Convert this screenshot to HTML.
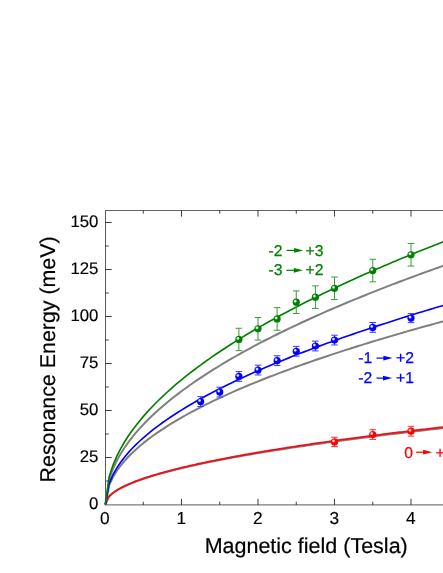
<!DOCTYPE html><html><head><meta charset="utf-8"><style>html,body{margin:0;padding:0;background:#fff}body{width:443px;height:573px;overflow:hidden}svg{display:block;will-change:transform}text{font-family:"Liberation Sans",sans-serif;text-rendering:geometricPrecision}</style></head><body>
<svg width="443" height="573" viewBox="0 0 443 573">
<defs>
<radialGradient id="g" cx="0.36" cy="0.36" r="0.26"><stop offset="0" stop-color="#f8f8f8"/><stop offset="0.4" stop-color="#d8eed8"/><stop offset="1" stop-color="#008000"/></radialGradient>
<radialGradient id="b" cx="0.36" cy="0.36" r="0.26"><stop offset="0" stop-color="#f8f8f8"/><stop offset="0.4" stop-color="#d8d8ff"/><stop offset="1" stop-color="#0000ff"/></radialGradient>
<radialGradient id="r" cx="0.36" cy="0.36" r="0.26"><stop offset="0" stop-color="#f8f8f8"/><stop offset="0.4" stop-color="#ffd8d8"/><stop offset="1" stop-color="#ff0000"/></radialGradient>
<clipPath id="cp"><rect x="105.3" y="210" width="340" height="295"/></clipPath>
</defs>
<rect width="443" height="573" fill="#fff"/>
<path d="M105.50 210.10 V505.30" fill="none" stroke="#484848" stroke-width="0.9"/>
<path d="M105.10 210.50 H443" fill="none" stroke="#484848" stroke-width="0.85"/>
<path d="M105.10 504.90 H443" fill="none" stroke="#484848" stroke-width="0.9"/>
<path d="M105.40,504.50 L109.22,496.37 L113.04,493.01 L116.86,490.43 L120.68,488.25 L124.50,486.33 L128.32,484.60 L132.14,483.00 L135.96,481.52 L139.78,480.12 L143.60,478.80 L147.42,477.55 L151.24,476.35 L155.06,475.20 L158.88,474.10 L162.70,473.03 L166.52,472.00 L170.34,471.00 L174.16,470.02 L177.98,469.08 L181.80,468.16 L185.62,467.26 L189.44,466.39 L193.26,465.53 L197.08,464.69 L200.90,463.87 L204.72,463.07 L208.54,462.28 L212.36,461.50 L216.18,460.74 L220.00,459.99 L223.82,459.26 L227.64,458.53 L231.46,457.82 L235.28,457.12 L239.10,456.43 L242.92,455.74 L246.74,455.07 L250.56,454.41 L254.38,453.75 L258.20,453.11 L262.02,452.47 L265.84,451.84 L269.66,451.21 L273.48,450.60 L277.30,449.99 L281.12,449.39 L284.94,448.79 L288.76,448.20 L292.58,447.62 L296.40,447.04 L300.22,446.47 L304.04,445.90 L307.86,445.34 L311.68,444.79 L315.50,444.24 L319.32,443.69 L323.14,443.15 L326.96,442.61 L330.78,442.08 L334.60,441.56 L338.42,441.03 L342.24,440.52 L346.06,440.00 L349.88,439.49 L353.70,438.99 L357.52,438.48 L361.34,437.99 L365.16,437.49 L368.98,437.00 L372.80,436.51 L376.62,436.03 L380.44,435.55 L384.26,435.07 L388.08,434.60 L391.90,434.13 L395.72,433.66 L399.54,433.19 L403.36,432.73 L407.18,432.27 L411.00,431.82 L414.82,431.37 L418.64,430.92 L422.46,430.47 L426.28,430.02 L430.10,429.58 L433.92,429.14 L437.74,428.71 L441.56,428.27 L445.38,427.84 L449.20,427.41 L453.02,426.98 L456.84,426.56" fill="none" stroke-linejoin="round" stroke="#7f7f7f" stroke-width="2.0"/>
<path d="M105.40,504.50 L109.22,485.02 L113.04,476.96 L116.86,470.77 L120.68,465.55 L124.50,460.95 L128.32,456.79 L132.14,452.97 L135.96,449.41 L139.78,446.07 L143.60,442.91 L147.42,439.91 L151.24,437.03 L155.06,434.28 L158.88,431.63 L162.70,429.07 L166.52,426.60 L170.34,424.20 L174.16,421.87 L177.98,419.61 L181.80,417.40 L185.62,415.25 L189.44,413.15 L193.26,411.10 L197.08,409.09 L200.90,407.12 L204.72,405.19 L208.54,403.30 L212.36,401.44 L216.18,399.62 L220.00,397.83 L223.82,396.06 L227.64,394.33 L231.46,392.62 L235.28,390.94 L239.10,389.28 L242.92,387.65 L246.74,386.03 L250.56,384.44 L254.38,382.87 L258.20,381.32 L262.02,379.79 L265.84,378.28 L269.66,376.79 L273.48,375.31 L277.30,373.85 L281.12,372.41 L284.94,370.98 L288.76,369.57 L292.58,368.17 L296.40,366.79 L300.22,365.42 L304.04,364.06 L307.86,362.71 L311.68,361.38 L315.50,360.06 L319.32,358.76 L323.14,357.46 L326.96,356.18 L330.78,354.90 L334.60,353.64 L338.42,352.39 L342.24,351.15 L346.06,349.92 L349.88,348.69 L353.70,347.48 L357.52,346.28 L361.34,345.08 L365.16,343.90 L368.98,342.72 L372.80,341.55 L376.62,340.39 L380.44,339.24 L384.26,338.10 L388.08,336.96 L391.90,335.84 L395.72,334.71 L399.54,333.60 L403.36,332.50 L407.18,331.40 L411.00,330.30 L414.82,329.22 L418.64,328.14 L422.46,327.07 L426.28,326.00 L430.10,324.94 L433.92,323.89 L437.74,322.84 L441.56,321.80 L445.38,320.77 L449.20,319.74 L453.02,318.71 L456.84,317.70" fill="none" stroke-linejoin="round" stroke="#7f7f7f" stroke-width="2.0"/>
<path d="M105.40,504.50 L109.22,479.12 L113.04,468.61 L116.86,460.54 L120.68,453.74 L124.50,447.75 L128.32,442.33 L132.14,437.35 L135.96,432.71 L139.78,428.36 L143.60,424.24 L147.42,420.32 L151.24,416.58 L155.06,412.99 L158.88,409.53 L162.70,406.20 L166.52,402.97 L170.34,399.85 L174.16,396.82 L177.98,393.87 L181.80,390.99 L185.62,388.19 L189.44,385.45 L193.26,382.78 L197.08,380.16 L200.90,377.59 L204.72,375.08 L208.54,372.62 L212.36,370.20 L216.18,367.82 L220.00,365.48 L223.82,363.18 L227.64,360.92 L231.46,358.70 L235.28,356.50 L239.10,354.34 L242.92,352.21 L246.74,350.11 L250.56,348.04 L254.38,345.99 L258.20,343.97 L262.02,341.98 L265.84,340.01 L269.66,338.06 L273.48,336.14 L277.30,334.24 L281.12,332.36 L284.94,330.49 L288.76,328.65 L292.58,326.83 L296.40,325.03 L300.22,323.24 L304.04,321.47 L307.86,319.72 L311.68,317.99 L315.50,316.27 L319.32,314.56 L323.14,312.88 L326.96,311.20 L330.78,309.54 L334.60,307.90 L338.42,306.27 L342.24,304.65 L346.06,303.04 L349.88,301.45 L353.70,299.87 L357.52,298.30 L361.34,296.75 L365.16,295.20 L368.98,293.67 L372.80,292.15 L376.62,290.63 L380.44,289.13 L384.26,287.64 L388.08,286.16 L391.90,284.69 L395.72,283.23 L399.54,281.78 L403.36,280.34 L407.18,278.91 L411.00,277.48 L414.82,276.07 L418.64,274.66 L422.46,273.27 L426.28,271.88 L430.10,270.50 L433.92,269.12 L437.74,267.76 L441.56,266.40 L445.38,265.05 L449.20,263.71 L453.02,262.38 L456.84,261.05" fill="none" stroke-linejoin="round" stroke="#7f7f7f" stroke-width="2.0"/>
<path d="M105.40,504.50 L107.31,498.68 L109.22,496.27 L111.13,494.42 L113.04,492.86 L114.95,491.48 L116.86,490.24 L118.77,489.10 L120.68,488.03 L122.59,487.03 L124.50,486.09 L126.41,485.19 L128.32,484.33 L130.23,483.51 L132.14,482.72 L134.05,481.95 L135.96,481.21 L137.87,480.50 L139.78,479.80 L141.69,479.12 L143.60,478.46 L145.51,477.82 L147.42,477.19 L149.33,476.58 L151.24,475.98 L153.15,475.39 L155.06,474.81 L156.97,474.25 L158.88,473.69 L160.79,473.15 L162.70,472.61 L164.61,472.09 L166.52,471.57 L168.43,471.06 L170.34,470.55 L172.25,470.06 L174.16,469.57 L176.07,469.09 L177.98,468.61 L179.89,468.14 L181.80,467.68 L183.71,467.22 L185.62,466.77 L187.53,466.32 L189.44,465.88 L191.35,465.45 L193.26,465.02 L195.17,464.59 L197.08,464.17 L198.99,463.75 L200.90,463.33 L202.81,462.92 L204.72,462.52 L206.63,462.12 L208.54,461.72 L210.45,461.32 L212.36,460.93 L214.27,460.55 L216.18,460.16 L218.09,459.78 L220.00,459.41 L221.91,459.03 L223.82,458.66 L225.73,458.29 L227.64,457.93 L229.55,457.56 L231.46,457.20 L233.37,456.85 L235.28,456.49 L237.19,456.14 L239.10,455.79 L241.01,455.45 L242.92,455.10 L244.83,454.76 L246.74,454.42 L248.65,454.08 L250.56,453.75 L252.47,453.41 L254.38,453.08 L256.29,452.76 L258.20,452.43 L260.11,452.10 L262.02,451.78 L263.93,451.46 L265.84,451.14 L267.75,450.83 L269.66,450.51 L271.57,450.20 L273.48,449.89 L275.39,449.58 L277.30,449.27 L279.21,448.96 L281.12,448.66 L283.03,448.36 L284.94,448.06 L286.85,447.76 L288.76,447.46 L290.67,447.16 L292.58,446.87 L294.49,446.57 L296.40,446.28 L298.31,445.99 L300.22,445.70 L302.13,445.42 L304.04,445.13 L305.95,444.85 L307.86,444.56 L309.77,444.28 L311.68,444.00 L313.59,443.72 L315.50,443.44 L317.41,443.16 L319.32,442.89 L321.23,442.61 L323.14,442.34 L325.05,442.07 L326.96,441.80 L328.87,441.53 L330.78,441.26 L332.69,440.99 L334.60,440.73 L336.51,440.46 L338.42,440.20 L340.33,439.93 L342.24,439.67 L344.15,439.41 L346.06,439.15 L347.97,438.89 L349.88,438.63 L351.79,438.38 L353.70,438.12 L355.61,437.87 L357.52,437.61 L359.43,437.36 L361.34,437.11 L363.25,436.86 L365.16,436.61 L367.07,436.36 L368.98,436.11 L370.89,435.86 L372.80,435.62 L374.71,435.37 L376.62,435.13 L378.53,434.88 L380.44,434.64 L382.35,434.40 L384.26,434.16 L386.17,433.92 L388.08,433.68 L389.99,433.44 L391.90,433.20 L393.81,432.96 L395.72,432.72 L397.63,432.49 L399.54,432.25 L401.45,432.02 L403.36,431.79 L405.27,431.55 L407.18,431.32 L409.09,431.09 L411.00,430.86 L412.91,430.63 L414.82,430.40 L416.73,430.17 L418.64,429.95 L420.55,429.72 L422.46,429.49 L424.37,429.27 L426.28,429.04 L428.19,428.82 L430.10,428.59 L432.01,428.37 L433.92,428.15 L435.83,427.93 L437.74,427.71 L439.65,427.49 L441.56,427.27 L443.47,427.05 L445.38,426.83 L447.29,426.61 L449.20,426.39 L451.11,426.18 L453.02,425.96 L454.93,425.75 L456.84,425.53" fill="none" stroke-linejoin="round" stroke="#f80c14" stroke-width="1.8"/>
<path d="M105.40,504.50 L109.22,483.33 L113.04,474.57 L116.86,467.84 L120.68,462.17 L124.50,457.17 L128.32,452.65 L132.14,448.50 L135.96,444.63 L139.78,441.00 L143.60,437.57 L147.42,434.30 L151.24,431.18 L155.06,428.18 L158.88,425.30 L162.70,422.52 L166.52,419.84 L170.34,417.23 L174.16,414.70 L177.98,412.24 L181.80,409.84 L185.62,407.50 L189.44,405.22 L193.26,402.99 L197.08,400.81 L200.90,398.67 L204.72,396.57 L208.54,394.52 L212.36,392.50 L216.18,390.52 L220.00,388.57 L223.82,386.65 L227.64,384.77 L231.46,382.91 L235.28,381.08 L239.10,379.28 L242.92,377.50 L246.74,375.75 L250.56,374.02 L254.38,372.32 L258.20,370.63 L262.02,368.97 L265.84,367.33 L269.66,365.70 L273.48,364.10 L277.30,362.51 L281.12,360.94 L284.94,359.39 L288.76,357.86 L292.58,356.34 L296.40,354.83 L300.22,353.34 L304.04,351.87 L307.86,350.41 L311.68,348.96 L315.50,347.53 L319.32,346.11 L323.14,344.70 L326.96,343.30 L330.78,341.92 L334.60,340.55 L338.42,339.19 L342.24,337.84 L346.06,336.50 L349.88,335.17 L353.70,333.85 L357.52,332.55 L361.34,331.25 L365.16,329.96 L368.98,328.68 L372.80,327.41 L376.62,326.15 L380.44,324.90 L384.26,323.66 L388.08,322.42 L391.90,321.20 L395.72,319.98 L399.54,318.77 L403.36,317.57 L407.18,316.37 L411.00,315.18 L414.82,314.00 L418.64,312.83 L422.46,311.67 L426.28,310.51 L430.10,309.36 L433.92,308.21 L437.74,307.08 L441.56,305.94 L445.38,304.82 L449.20,303.70 L453.02,302.59 L456.84,301.48" fill="none" stroke-linejoin="round" stroke="#0000ff" stroke-width="1.65"/>
<path d="M105.40,504.50 L109.22,476.56 L113.04,464.99 L116.86,456.11 L120.68,448.62 L124.50,442.03 L128.32,436.06 L132.14,430.58 L135.96,425.48 L139.78,420.68 L143.60,416.15 L147.42,411.84 L151.24,407.72 L155.06,403.77 L158.88,399.96 L162.70,396.29 L166.52,392.75 L170.34,389.31 L174.16,385.97 L177.98,382.72 L181.80,379.56 L185.62,376.47 L189.44,373.46 L193.26,370.51 L197.08,367.63 L200.90,364.81 L204.72,362.04 L208.54,359.33 L212.36,356.66 L216.18,354.05 L220.00,351.47 L223.82,348.94 L227.64,346.46 L231.46,344.01 L235.28,341.59 L239.10,339.21 L242.92,336.87 L246.74,334.56 L250.56,332.28 L254.38,330.02 L258.20,327.80 L262.02,325.61 L265.84,323.44 L269.66,321.29 L273.48,319.18 L277.30,317.08 L281.12,315.01 L284.94,312.96 L288.76,310.94 L292.58,308.93 L296.40,306.94 L300.22,304.98 L304.04,303.03 L307.86,301.10 L311.68,299.19 L315.50,297.30 L319.32,295.43 L323.14,293.57 L326.96,291.73 L330.78,289.90 L334.60,288.09 L338.42,286.29 L342.24,284.51 L346.06,282.74 L349.88,280.99 L353.70,279.25 L357.52,277.53 L361.34,275.81 L365.16,274.11 L368.98,272.43 L372.80,270.75 L376.62,269.09 L380.44,267.43 L384.26,265.79 L388.08,264.16 L391.90,262.55 L395.72,260.94 L399.54,259.34 L403.36,257.75 L407.18,256.18 L411.00,254.61 L414.82,253.05 L418.64,251.51 L422.46,249.97 L426.28,248.44 L430.10,246.92 L433.92,245.41 L437.74,243.91 L441.56,242.41 L445.38,240.93 L449.20,239.45 L453.02,237.98 L456.84,236.52" fill="none" stroke-linejoin="round" stroke="#008000" stroke-width="1.65"/>
<path d="M143.25 504.90 v-3.20 M143.25 210.50 v3.20 M181.50 504.90 v-6.10 M181.50 210.50 v6.10 M219.75 504.90 v-3.20 M219.75 210.50 v3.20 M258.00 504.90 v-6.10 M258.00 210.50 v6.10 M296.25 504.90 v-3.20 M296.25 210.50 v3.20 M334.50 504.90 v-6.10 M334.50 210.50 v6.10 M372.75 504.90 v-3.20 M372.75 210.50 v3.20 M411.00 504.90 v-6.10 M411.00 210.50 v6.10 M105.50 481.00 h3.20 M105.50 457.50 h6.20 M105.50 434.00 h3.20 M105.50 410.50 h6.20 M105.50 387.00 h3.20 M105.50 363.50 h6.20 M105.50 340.00 h3.20 M105.50 316.50 h6.20 M105.50 293.00 h3.20 M105.50 269.50 h6.20 M105.50 246.00 h3.20 M105.50 222.50 h6.20" fill="none" stroke="#000" stroke-width="0.75"/>
<text x="98.4" y="509.0" font-size="16.8" text-anchor="end" fill="#000" stroke="#000" stroke-width="0.15">0</text>
<text x="98.4" y="462.0" font-size="16.8" text-anchor="end" fill="#000" stroke="#000" stroke-width="0.15">25</text>
<text x="98.4" y="415.0" font-size="16.8" text-anchor="end" fill="#000" stroke="#000" stroke-width="0.15">50</text>
<text x="98.4" y="368.0" font-size="16.8" text-anchor="end" fill="#000" stroke="#000" stroke-width="0.15">75</text>
<text x="98.4" y="321.0" font-size="16.8" text-anchor="end" fill="#000" stroke="#000" stroke-width="0.15">100</text>
<text x="98.4" y="274.0" font-size="16.8" text-anchor="end" fill="#000" stroke="#000" stroke-width="0.15">125</text>
<text x="98.4" y="227.0" font-size="16.8" text-anchor="end" fill="#000" stroke="#000" stroke-width="0.15">150</text>
<text x="104.7" y="524.4" font-size="17.3" text-anchor="middle" fill="#000" stroke="#000" stroke-width="0.15">0</text>
<text x="181.2" y="524.4" font-size="17.3" text-anchor="middle" fill="#000" stroke="#000" stroke-width="0.15">1</text>
<text x="257.7" y="524.4" font-size="17.3" text-anchor="middle" fill="#000" stroke="#000" stroke-width="0.15">2</text>
<text x="334.2" y="524.4" font-size="17.3" text-anchor="middle" fill="#000" stroke="#000" stroke-width="0.15">3</text>
<text x="410.7" y="524.4" font-size="17.3" text-anchor="middle" fill="#000" stroke="#000" stroke-width="0.15">4</text>
<text x="306.2" y="552.6" font-size="21.5" text-anchor="middle" fill="#000" stroke="#000" stroke-width="0.2">Magnetic field (Tesla)</text>
<text transform="translate(55.2 359.4) rotate(-90)" font-size="21.4" text-anchor="middle" fill="#000" stroke="#000" stroke-width="0.2">Resonance Energy (meV)</text>
<path d="M238.88 328.25 V350.62 M235.57 328.25 h6.6 M235.57 350.62 h6.6" fill="none" stroke="#389c38" stroke-width="1"/>
<circle cx="238.88" cy="339.44" r="3.6" fill="url(#g)"/>
<path d="M258.00 317.53 V340.09 M254.70 317.53 h6.6 M254.70 340.09 h6.6" fill="none" stroke="#389c38" stroke-width="1"/>
<circle cx="258.00" cy="328.81" r="3.6" fill="url(#g)"/>
<path d="M277.12 307.66 V330.22 M273.82 307.66 h6.6 M273.82 330.22 h6.6" fill="none" stroke="#389c38" stroke-width="1"/>
<circle cx="277.12" cy="318.94" r="3.6" fill="url(#g)"/>
<path d="M296.25 290.93 V313.49 M292.95 290.93 h6.6 M292.95 313.49 h6.6" fill="none" stroke="#389c38" stroke-width="1"/>
<circle cx="296.25" cy="302.21" r="3.6" fill="url(#g)"/>
<path d="M315.38 285.86 V308.42 M312.07 285.86 h6.6 M312.07 308.42 h6.6" fill="none" stroke="#389c38" stroke-width="1"/>
<circle cx="315.38" cy="297.14" r="3.6" fill="url(#g)"/>
<path d="M334.50 277.02 V299.58 M331.20 277.02 h6.6 M331.20 299.58 h6.6" fill="none" stroke="#389c38" stroke-width="1"/>
<circle cx="334.50" cy="288.30" r="3.6" fill="url(#g)"/>
<path d="M372.75 259.25 V281.81 M369.45 259.25 h6.6 M369.45 281.81 h6.6" fill="none" stroke="#389c38" stroke-width="1"/>
<circle cx="372.75" cy="270.53" r="3.6" fill="url(#g)"/>
<path d="M411.00 243.46 V266.02 M407.70 243.46 h6.6 M407.70 266.02 h6.6" fill="none" stroke="#389c38" stroke-width="1"/>
<circle cx="411.00" cy="254.74" r="3.6" fill="url(#g)"/>
<path d="M200.62 396.68 V406.46 M197.32 396.68 h6.6 M197.32 406.46 h6.6" fill="none" stroke="#3838ff" stroke-width="1"/>
<circle cx="200.62" cy="401.57" r="3.6" fill="url(#b)"/>
<path d="M219.75 387.19 V396.96 M216.45 387.19 h6.6 M216.45 396.96 h6.6" fill="none" stroke="#3838ff" stroke-width="1"/>
<circle cx="219.75" cy="392.08" r="3.6" fill="url(#b)"/>
<path d="M238.88 371.58 V381.36 M235.57 371.58 h6.6 M235.57 381.36 h6.6" fill="none" stroke="#3838ff" stroke-width="1"/>
<circle cx="238.88" cy="376.47" r="3.6" fill="url(#b)"/>
<path d="M258.00 365.19 V374.97 M254.70 365.19 h6.6 M254.70 374.97 h6.6" fill="none" stroke="#3838ff" stroke-width="1"/>
<circle cx="258.00" cy="370.08" r="3.6" fill="url(#b)"/>
<path d="M277.12 355.79 V365.57 M273.82 355.79 h6.6 M273.82 365.57 h6.6" fill="none" stroke="#3838ff" stroke-width="1"/>
<circle cx="277.12" cy="360.68" r="3.6" fill="url(#b)"/>
<path d="M296.25 346.39 V356.17 M292.95 346.39 h6.6 M292.95 356.17 h6.6" fill="none" stroke="#3838ff" stroke-width="1"/>
<circle cx="296.25" cy="351.28" r="3.6" fill="url(#b)"/>
<path d="M315.38 341.13 V350.90 M312.07 341.13 h6.6 M312.07 350.90 h6.6" fill="none" stroke="#3838ff" stroke-width="1"/>
<circle cx="315.38" cy="346.02" r="3.6" fill="url(#b)"/>
<path d="M334.50 335.21 V344.98 M331.20 335.21 h6.6 M331.20 344.98 h6.6" fill="none" stroke="#3838ff" stroke-width="1"/>
<circle cx="334.50" cy="340.09" r="3.6" fill="url(#b)"/>
<path d="M372.75 322.52 V332.29 M369.45 322.52 h6.6 M369.45 332.29 h6.6" fill="none" stroke="#3838ff" stroke-width="1"/>
<circle cx="372.75" cy="327.40" r="3.6" fill="url(#b)"/>
<path d="M411.00 313.59 V322.61 M407.70 313.59 h6.6 M407.70 322.61 h6.6" fill="none" stroke="#3838ff" stroke-width="1"/>
<circle cx="411.00" cy="318.10" r="3.6" fill="url(#b)"/>
<path d="M334.50 437.20 V446.60 M331.20 437.20 h6.6 M331.20 446.60 h6.6" fill="none" stroke="#ff3030" stroke-width="1"/>
<circle cx="334.50" cy="441.90" r="3.6" fill="url(#r)"/>
<path d="M372.75 429.68 V439.45 M369.45 429.68 h6.6 M369.45 439.45 h6.6" fill="none" stroke="#ff3030" stroke-width="1"/>
<circle cx="372.75" cy="434.56" r="3.6" fill="url(#r)"/>
<path d="M411.00 426.29 V436.07 M407.70 426.29 h6.6 M407.70 436.07 h6.6" fill="none" stroke="#ff3030" stroke-width="1"/>
<circle cx="411.00" cy="431.18" r="3.6" fill="url(#r)"/>
<text x="268.6" y="255.6" font-size="15.7" fill="#008000" stroke="#008000" stroke-width="0.25">-2</text>
<text x="305.6" y="255.6" font-size="15.7" fill="#008000" stroke="#008000" stroke-width="0.25">+3</text>
<path d="M286.6 250.40 H297.3" stroke="#008000" stroke-width="1.2" fill="none"/>
<path d="M303.3 250.40 L294.1 248.00 L294.1 252.80 Z" fill="#008000"/>
<text x="268.6" y="275.1" font-size="15.7" fill="#008000" stroke="#008000" stroke-width="0.25">-3</text>
<text x="305.6" y="275.1" font-size="15.7" fill="#008000" stroke="#008000" stroke-width="0.25">+2</text>
<path d="M286.3 270.30 H297.0" stroke="#008000" stroke-width="1.2" fill="none"/>
<path d="M303.0 270.30 L293.8 267.90 L293.8 272.70 Z" fill="#008000"/>
<text x="358.3" y="363.1" font-size="15.7" fill="#0000ff" stroke="#0000ff" stroke-width="0.25">-1</text>
<text x="396.0" y="363.1" font-size="15.7" fill="#0000ff" stroke="#0000ff" stroke-width="0.25">+2</text>
<path d="M376.5 358.10 H386.6" stroke="#0000ff" stroke-width="1.2" fill="none"/>
<path d="M392.6 358.10 L383.4 355.70 L383.4 360.50 Z" fill="#0000ff"/>
<text x="358.3" y="382.8" font-size="15.7" fill="#0000ff" stroke="#0000ff" stroke-width="0.25">-2</text>
<text x="396.0" y="382.8" font-size="15.7" fill="#0000ff" stroke="#0000ff" stroke-width="0.25">+1</text>
<path d="M376.5 378.10 H386.2" stroke="#0000ff" stroke-width="1.2" fill="none"/>
<path d="M392.2 378.10 L383.0 375.70 L383.0 380.50 Z" fill="#0000ff"/>
<text x="404.3" y="457.5" font-size="15.7" fill="#ff0000" stroke="#ff0000" stroke-width="0.25">0</text>
<text x="435.5" y="457.5" font-size="15.7" fill="#ff0000" stroke="#ff0000" stroke-width="0.25">+1</text>
<path d="M416.1 452.20 H426.3" stroke="#ff0000" stroke-width="1.2" fill="none"/>
<path d="M432.3 452.20 L423.1 449.80 L423.1 454.60 Z" fill="#ff0000"/>
</svg></body></html>
